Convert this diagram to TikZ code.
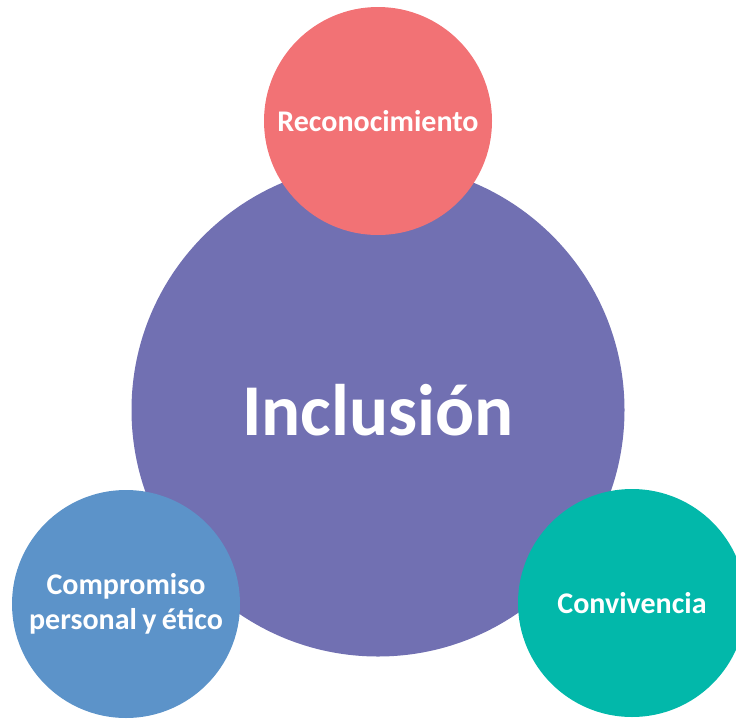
\documentclass[tikz,border=0pt]{standalone}
\usepackage{fontspec}
\setmainfont{Carlito}
\usepackage{xcolor}
\usetikzlibrary{positioning}
\definecolor{hubpurple}{RGB}{113,112,178}
\definecolor{coralred}{RGB}{242,114,117}
\definecolor{steelblue}{RGB}{92,147,201}
\definecolor{tealgreen}{RGB}{2,184,170}

\begin{document}
\begin{tikzpicture}[
    x=1pt, y=-1pt,
    hub/.style={circle, draw=none, fill=hubpurple, inner sep=0pt,
                minimum size=493pt, text=white, font=\fontsize{73}{80}\selectfont\bfseries},
    petal/.style={circle, draw=none, inner sep=0pt, minimum size=228pt,
                  align=center, text=white, font=\fontsize{30}{35}\selectfont\bfseries}
]
    \useasboundingbox (0,0) rectangle (736,718);
    \clip (0,0) rectangle (736,718);

    % Centre
    \node[hub] (incl) at (378,410) {Inclusión};

    % Satellites
    \node[petal, fill=coralred] (recon) at (378,121) {Reconocimiento};
    \node[petal, fill=steelblue] (compr) at (126,604) {Compromiso\\personal\hspace{0.18em}y\hspace{0.18em}ético};
    \node[petal, fill=tealgreen] (conviv) at (632,603) {Convivencia};
\end{tikzpicture}
\end{document}
